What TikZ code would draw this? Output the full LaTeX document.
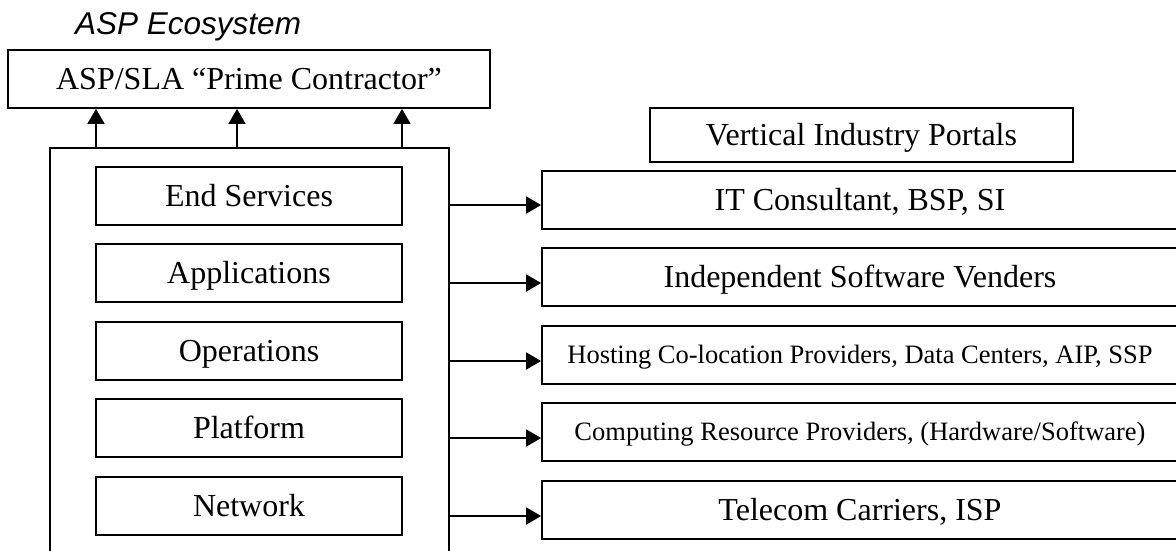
\documentclass[tikz,border=0pt]{standalone}
\usepackage{fontspec}
\setmainfont{Liberation Serif}
\newfontfamily\titlefont{Liberation Sans}
\usetikzlibrary{arrows.meta}

\begin{document}
\begin{tikzpicture}[x=1pt,y=-1pt,
  box/.style={draw,line width=1.8pt,inner sep=0pt,text depth=0pt},
  big/.style={font=\fontsize{32}{38}\selectfont,text height=21pt},
  small/.style={font=\fontsize{26.5}{31}\selectfont,text height=17.5pt},
  layer/.style={box,big,minimum width=306pt,minimum height=58pt},
  provider/.style={box,minimum width=636pt,minimum height=58pt},
  arr/.style={line width=1.8pt,-{Triangle[width=17pt,length=15pt]}}]
\useasboundingbox (0,0) rectangle (1176,550);
\clip (0,0) rectangle (1176,550);

% heading
\node[anchor=base west,inner sep=0pt,font=\titlefont\itshape\fontsize{31.5}{38}\selectfont]
  (title) at (75,34) {ASP Ecosystem};

% prime contractor and the stack of service layers
\node[box,big,minimum width=482pt,minimum height=58pt] (prime) at (249,79)
  {ASP/SLA “Prime Contractor”};
\node[draw,line width=1.8pt,inner sep=0pt,minimum width=399pt,minimum height=460pt,
  anchor=north west] (stack) at (49,147) {};

\node[layer] (l1) at (249,196) {End Services};
\node[layer] (l2) at (249,273) {Applications};
\node[layer] (l3) at (249,351) {Operations};
\node[layer] (l4) at (249,428) {Platform};
\node[layer] (l5) at (249,506) {Network};

% providers on the right
\node[box,big,minimum width=423pt,minimum height=54pt] (vip) at (861.5,135)
  {Vertical Industry Portals};
\node[provider,big]   (p1) at (860,200) {IT Consultant, BSP, SI};
\node[provider,big]   (p2) at (860,277) {Independent Software Venders};
\node[provider,small] (p3) at (860,355) {Hosting Co-location Providers, Data Centers, AIP, SSP};
\node[provider,small] (p4) at (860,432) {Computing Resource Providers, (Hardware/Software)};
\node[provider,big]   (p5) at (860,510) {Telecom Carriers, ISP};

% upward arrows to the prime contractor
\coordinate (u1) at (96,147);
\coordinate (u2) at (237,147);
\coordinate (u3) at (402,147);
\foreach \u in {u1,u2,u3}
  \draw[arr] (\u) -- (\u |- prime.south);

% arrows from the stack to each provider
\coordinate (a1) at (448,205);
\coordinate (a2) at (448,283);
\coordinate (a3) at (448,361);
\coordinate (a4) at (448,438);
\coordinate (a5) at (448,516);
\foreach \i in {1,...,5}
  \draw[arr] (a\i) -- (a\i -| p\i.west);
\end{tikzpicture}
\end{document}
